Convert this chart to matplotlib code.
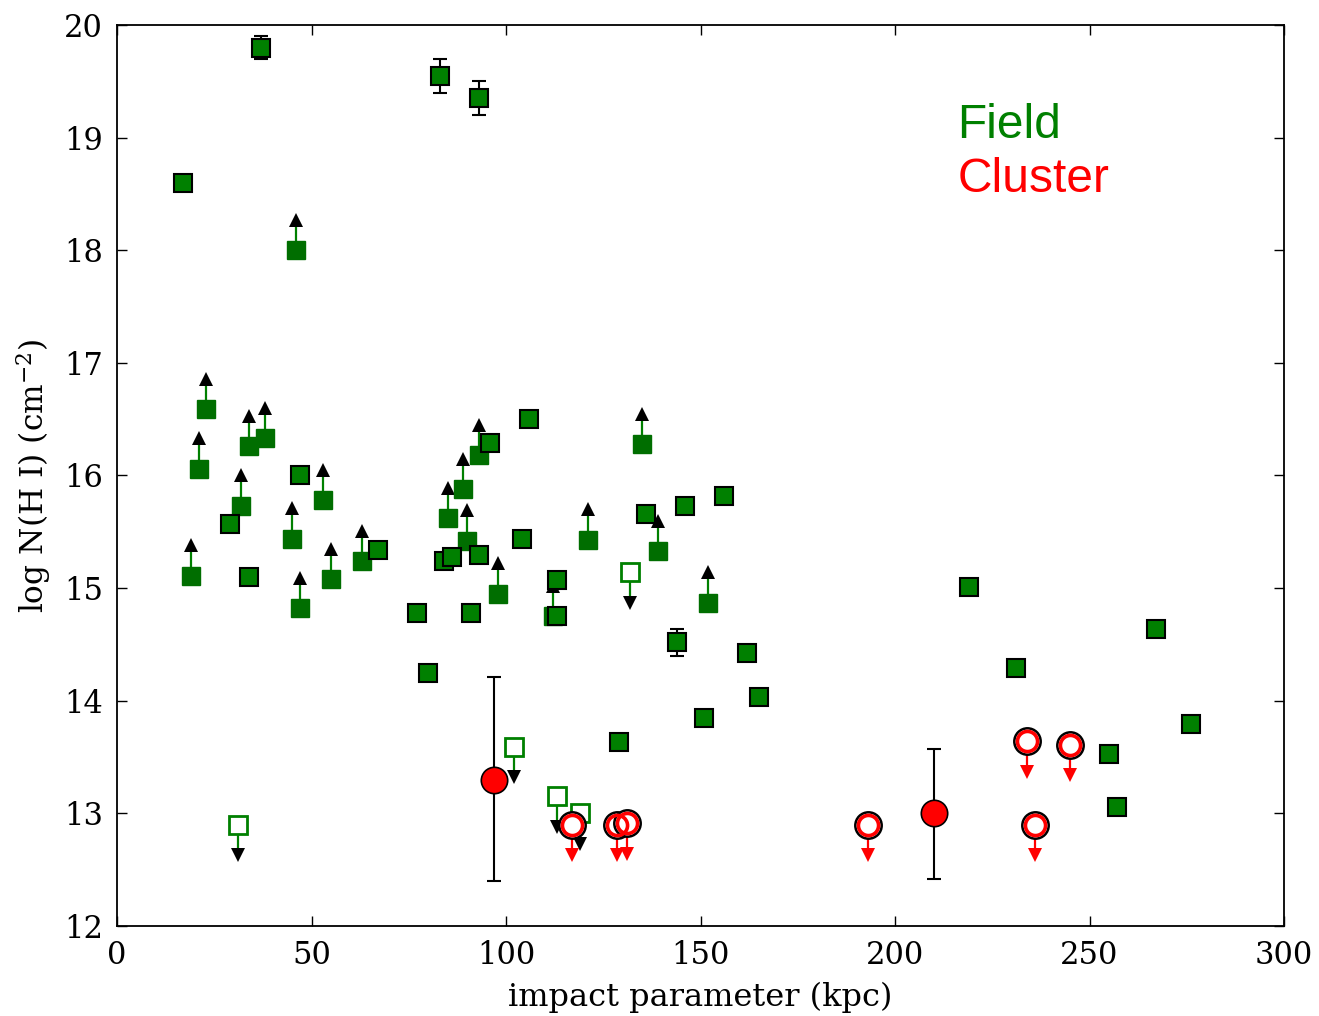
import matplotlib
matplotlib.use('Agg')
import matplotlib.pyplot as plt
import numpy as np

plt.rcParams['font.family'] = 'DejaVu Serif'
plt.rcParams['mathtext.fontset'] = 'dejavuserif'

# field detections (impact parameter in kpc, log N(HI), symmetric error)
det_x = [17, 37, 83, 93, 29, 34, 47, 67, 77, 91, 84, 86, 93, 104, 96, 106, 113, 113,
         136, 146, 156, 144, 162, 80, 151, 165, 129, 219, 231, 267, 276, 255, 257]
det_y = [18.60, 19.80, 19.55, 19.35, 15.57, 15.10, 16.00, 15.34, 14.78, 14.78, 15.24, 15.28,
         15.29, 15.44, 16.29, 16.50, 15.07, 14.75, 15.66, 15.73, 15.82, 14.52, 14.42, 14.25,
         13.85, 14.03, 13.63, 15.01, 14.29, 14.64, 13.79, 13.53, 13.06]
det_err = [0, 0.10, 0.15, 0.15, 0, 0, 0, 0, 0, 0, 0, 0,
           0, 0, 0, 0, 0, 0, 0, 0, 0, 0.12, 0, 0,
           0.05, 0, 0, 0, 0, 0, 0, 0, 0]

# field lower limits (saturated)
lo_x = [46, 23, 21, 34, 38, 32, 19, 45, 53, 47, 55, 63, 93, 89, 85, 90, 98, 112, 121, 135, 139, 152]
lo_y = [18.00, 16.59, 16.06, 16.26, 16.33, 15.73, 15.11, 15.44, 15.78, 14.82, 15.08, 15.24,
        16.18, 15.88, 15.62, 15.42, 14.95, 14.75, 15.43, 16.28, 15.33, 14.87]

# field upper limits (non-detections)
up_x = [31, 102, 113, 119, 132]
up_y = [12.90, 13.59, 13.15, 13.00, 15.14]

# cluster detections with asymmetric errors
cl_x = [97, 210]
cl_y = [13.30, 13.00]
cl_err_lo = [0.90, 0.58]
cl_err_hi = [0.91, 0.57]

# cluster upper limits
clu_x = [117, 128.6, 131, 193, 234, 236, 245]
clu_y = [12.90, 12.90, 12.91, 12.90, 13.64, 12.90, 13.61]

arrow_len = 0.25
head_off = 0.27

fig = plt.figure(figsize=(13.19, 10.16), dpi=100)
ax = fig.add_axes([0.0887, 0.0886, 0.9735 - 0.0887, 0.9754 - 0.0886])

# lower limits: dark green squares with upward arrows
lo_x = np.array(lo_x)
lo_y = np.array(lo_y)
ax.vlines(lo_x, lo_y, lo_y + arrow_len, color='green', lw=1.6, zorder=2)
ax.plot(lo_x, lo_y + head_off, '^', color='black', ms=9.5, mew=0, zorder=2)
ax.plot(lo_x, lo_y, 's', mfc='#006e00', mec='#006e00', ms=13, mew=1, zorder=3)

# upper limits: open green squares with downward arrows
up_x = np.array(up_x)
up_y = np.array(up_y)
ax.vlines(up_x, up_y - arrow_len, up_y, color='green', lw=1.6, zorder=2)
ax.plot(up_x, up_y - head_off, 'v', color='black', ms=9.5, mew=0, zorder=2)
ax.plot(up_x, up_y, 's', mfc='white', mec='green', ms=13, mew=2, zorder=3)

# detections
ax.errorbar(det_x, det_y, yerr=det_err, fmt='none', ecolor='black', elinewidth=1.5,
            capsize=5, capthick=1.5, zorder=4)
ax.plot(det_x, det_y, 's', mfc='green', mec='black', ms=13, mew=1.5, zorder=5)

# cluster detections
ax.errorbar(cl_x, cl_y, yerr=[cl_err_lo, cl_err_hi], fmt='none', ecolor='black',
            elinewidth=1.5, capsize=5, capthick=1.5, zorder=6)
ax.plot(cl_x, cl_y, 'o', mfc='red', mec='black', ms=19, mew=1.2, zorder=7)

# cluster upper limits
clu_x = np.array(clu_x)
clu_y = np.array(clu_y)
ax.vlines(clu_x, clu_y - arrow_len, clu_y, color='red', lw=1.6, zorder=6)
ax.plot(clu_x, clu_y - head_off, 'v', color='red', ms=9.5, mew=0, zorder=6)
ax.plot(clu_x, clu_y, 'o', mfc='white', mec='black', ms=19, mew=1.8, zorder=7)
ax.plot(clu_x, clu_y, 'o', mfc='none', mec='red', ms=14.5, mew=2.6, zorder=8)

ax.set_xlim(0, 300)
ax.set_ylim(12, 20)
ax.set_xticks([0, 50, 100, 150, 200, 250, 300])
ax.set_yticks([12, 13, 14, 15, 16, 17, 18, 19, 20])
ax.tick_params(direction='in', length=7, width=1, top=True, right=True,
               labelsize=22, pad=10)
for s in ax.spines.values():
    s.set_linewidth(1.3)

ax.set_xlabel('impact parameter (kpc)', fontsize=23, labelpad=8)
ax.set_ylabel(r'log N(H I) (cm$^{-2}$)', fontsize=22.5, labelpad=8)

ax.text(0.72, 0.8746, 'Field', color='green', fontsize=34.5, family='Liberation Sans',
        transform=ax.transAxes, va='baseline')
ax.text(0.72, 0.815, 'Cluster', color='red', fontsize=34.5, family='Liberation Sans',
        transform=ax.transAxes, va='baseline')

fig.savefig('out.png', dpi=100)
